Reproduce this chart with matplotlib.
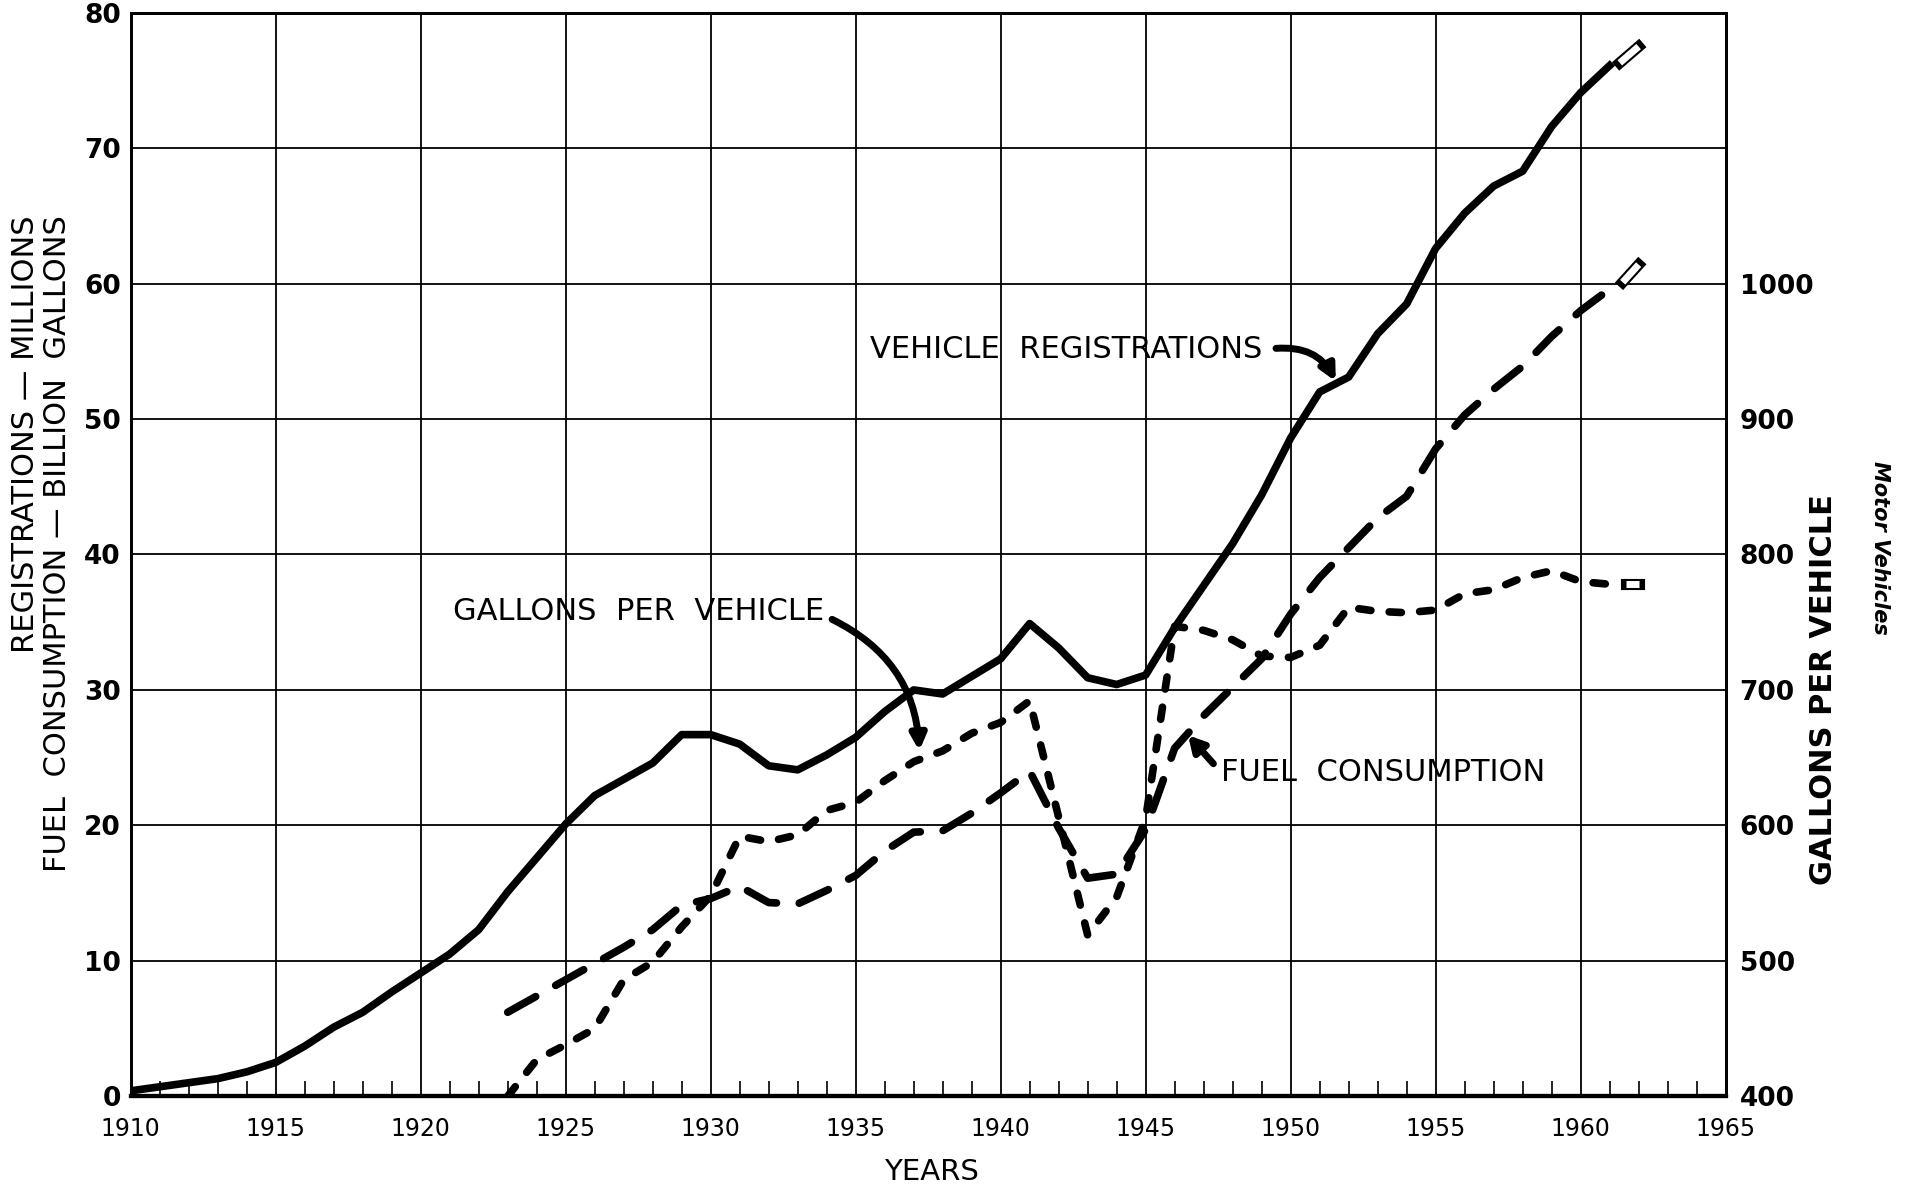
import matplotlib
matplotlib.use("Agg")
import matplotlib.pyplot as plt
from matplotlib.ticker import MultipleLocator

# vehicle registrations, millions
reg_years = list(range(1910, 1962))
registrations = [0.4, 0.7, 1.0, 1.3, 1.8, 2.5, 3.7, 5.1, 6.2, 7.7,
                 9.1, 10.5, 12.3, 15.1, 17.6, 20.1, 22.2, 23.4, 24.6, 26.7,
                 26.7, 26.0, 24.4, 24.1, 25.2, 26.5, 28.4, 30.0, 29.7, 31.0,
                 32.3, 34.9, 33.1, 30.9, 30.4, 31.1, 34.6, 37.7, 40.8, 44.4,
                 48.6, 52.0, 53.1, 56.3, 58.5, 62.6, 65.2, 67.2, 68.3, 71.6,
                 74.1, 76.1]
reg_proj_years = [1961.35, 1962.0]
reg_proj = [76.3, 77.5]

# fuel consumption, billion gallons
fuel_years = list(range(1923, 1962))
fuel = [6.2, 7.4, 8.6, 9.8, 11.0, 12.3, 14.1,
        14.6, 15.5, 14.3, 14.2, 15.2, 16.3, 18.1, 19.5, 19.6, 20.9,
        22.4, 24.0, 19.8, 16.1, 16.4, 19.7, 25.7, 28.1, 30.2, 32.3,
        35.6, 38.3, 40.5, 42.7, 44.3, 47.8, 50.3, 52.2, 53.9, 56.1,
        58.0, 59.6]
fuel_proj_years = [1961.45, 1962.0]
fuel_proj = [60.1, 61.4]

# gallons per vehicle (right axis)
gal_years = list(range(1923, 1962))
gallons = [400, 427, 438, 450, 486, 499, 525,
           548, 592, 588, 593, 611, 617, 633, 647, 655, 668,
           676, 692, 606, 519, 547, 605, 747, 744, 737, 725,
           724, 733, 761, 758, 757, 759, 771, 774, 783, 788,
           780, 778]
gal_proj_years = [1961.55, 1962.0]
gal_proj = [778, 778]

x_ticks = list(range(1910, 1966, 5))
y_ticks = list(range(0, 81, 10))
right_ticks = list(range(400, 1001, 100))

fig = plt.figure(figsize=(19.11, 11.89), dpi=100)
ax = fig.add_axes([0.0684, 0.078, 0.8346, 0.9113])
ax2 = ax.twinx()

ax.set_xlim(1910, 1965)
ax.set_ylim(0, 80)
ax2.set_ylim(400, 1200)

ax.set_xticks(x_ticks)
ax.set_yticks(y_ticks)
ax.xaxis.set_minor_locator(MultipleLocator(1))
ax.grid(True, which="major", color="black", lw=1.3)
ax.tick_params(axis="x", which="major", length=0, pad=15, labelsize=17)
ax.tick_params(axis="x", which="minor", direction="in", length=11, width=1.2)
ax.tick_params(axis="y", which="major", length=0, pad=7, labelsize=19)
for lab in ax.get_yticklabels():
    lab.set_fontweight("bold")

ax2.set_yticks(right_ticks)
ax2.tick_params(axis="y", length=0, pad=10, labelsize=19)
for lab in ax2.get_yticklabels():
    lab.set_fontweight("bold")

for a in (ax, ax2):
    for s in a.spines.values():
        s.set_linewidth(2)
    a.spines["bottom"].set_linewidth(3)

# series
ax.plot(reg_years, registrations, color="black", lw=5.5, solid_joinstyle="round")
ax.plot(fuel_years, fuel, color="black", lw=5.5, linestyle=(0, (4.2, 3.0)),
        dash_capstyle="round")
ax2.plot(gal_years, gallons, color="black", lw=5.5, linestyle=(0, (1.6, 2.4)),
         dash_capstyle="round")

# projected (hollow) ends
for a, xs, ys in ((ax, reg_proj_years, reg_proj),
                  (ax, fuel_proj_years, fuel_proj),
                  (ax2, gal_proj_years, gal_proj)):
    a.plot(xs, ys, color="black", lw=8, solid_capstyle="projecting")
    a.plot(xs, ys, color="white", lw=5, solid_capstyle="butt")

# annotations
lab_font = dict(fontsize=22, color="black", va="center", ha="left")
ax.text(1935.5, 55.1, "VEHICLE  REGISTRATIONS", **lab_font)
ax.annotate("", xy=(1951.6, 52.6), xytext=(1949.4, 55.2),
            arrowprops=dict(arrowstyle="-|>,head_length=0.9,head_width=0.45",
                            lw=5, color="black",
                            connectionstyle="arc3,rad=-0.35"))

ax.text(1921.1, 35.8, "GALLONS  PER  VEHICLE", **lab_font)
ax.annotate("", xy=(1937.2, 25.3), xytext=(1934.1, 35.3),
            arrowprops=dict(arrowstyle="-|>,head_length=0.9,head_width=0.45",
                            lw=5, color="black",
                            connectionstyle="arc3,rad=-0.3"))

ax.text(1947.6, 23.9, "FUEL  CONSUMPTION", **lab_font)
ax.annotate("", xy=(1946.4, 26.8), xytext=(1947.4, 24.4),
            arrowprops=dict(arrowstyle="-|>,head_length=0.9,head_width=0.5",
                            lw=5, color="black"))

# axis titles
fig.text(931 / 1911, 1 - 1172 / 1189, "YEARS", fontsize=21, ha="center", va="center")
fig.text(26 / 1911, 1 - 215 / 1189, "REGISTRATIONS \u2014 MILLIONS", fontsize=22,
         rotation=90, ha="center", va="top")
fig.text(58 / 1911, 1 - 215 / 1189, "FUEL  CONSUMPTION \u2014 BILLION  GALLONS",
         fontsize=22, rotation=90, ha="center", va="top")
fig.text(1824 / 1911, 1 - 690 / 1189, "GALLONS PER VEHICLE", fontsize=22,
         fontweight="bold", rotation=90, ha="center", va="center")
fig.text(1880 / 1911, 1 - 548 / 1189, "Motor Vehicles", fontsize=15,
         fontweight="bold", fontstyle="italic", rotation=-90, ha="center", va="center")

fig.savefig("out.png", dpi=100, facecolor="white")
